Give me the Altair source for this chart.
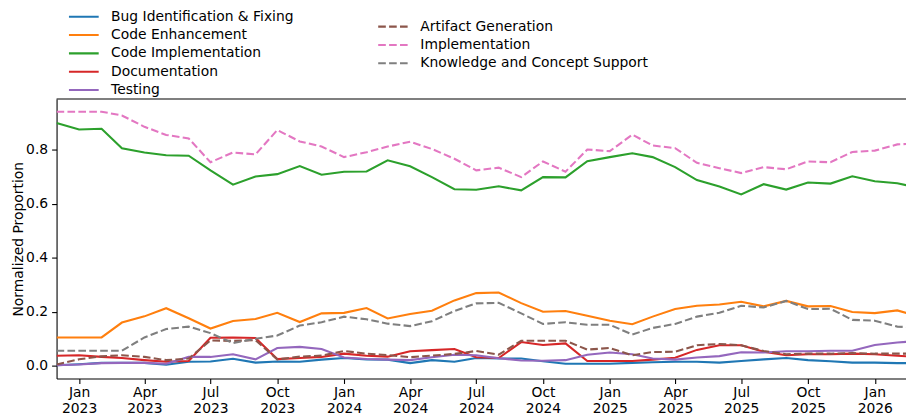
import altair as alt
import pandas as pd

# ---- data (monthly, Dec 2022 .. Mar 2026; last point lies just past the clipped right edge) ----
months = pd.date_range("2022-12-01", "2026-03-01", freq="MS").strftime("%Y-%m-%dT00:00:00").tolist()

bug_fixing = [0.002, 0.006, 0.011, 0.011, 0.011, 0.004, 0.015, 0.016, 0.026, 0.012,
              0.016, 0.015, 0.023, 0.029, 0.024, 0.023, 0.010, 0.021, 0.015, 0.029,
              0.027, 0.027, 0.017, 0.008, 0.008, 0.008, 0.011, 0.013, 0.015, 0.015,
              0.012, 0.018, 0.024, 0.029, 0.021, 0.017, 0.012, 0.012, 0.010, 0.010]
code_enhancement = [0.105, 0.105, 0.105, 0.160, 0.183, 0.213, 0.176, 0.138, 0.166, 0.173,
                    0.196, 0.162, 0.194, 0.196, 0.214, 0.175, 0.192, 0.204, 0.242, 0.269,
                    0.271, 0.232, 0.200, 0.203, 0.185, 0.167, 0.154, 0.182, 0.210, 0.222,
                    0.227, 0.237, 0.220, 0.240, 0.220, 0.221, 0.199, 0.195, 0.205, 0.183]
code_implementation = [0.898, 0.874, 0.877, 0.805, 0.789, 0.779, 0.777, 0.723, 0.670, 0.700,
                       0.709, 0.739, 0.707, 0.718, 0.719, 0.760, 0.738, 0.698, 0.653, 0.651,
                       0.664, 0.649, 0.698, 0.697, 0.757, 0.772, 0.786, 0.772, 0.735, 0.687,
                       0.663, 0.634, 0.672, 0.652, 0.678, 0.674, 0.701, 0.683, 0.675, 0.660]
documentation = [0.037, 0.039, 0.033, 0.029, 0.021, 0.015, 0.018, 0.104, 0.105, 0.103,
                 0.025, 0.029, 0.033, 0.045, 0.037, 0.034, 0.054, 0.058, 0.062, 0.032,
                 0.029, 0.088, 0.077, 0.083, 0.018, 0.018, 0.018, 0.023, 0.030, 0.059,
                 0.076, 0.076, 0.052, 0.039, 0.043, 0.043, 0.045, 0.043, 0.037, 0.033]
testing = [0.002, 0.005, 0.010, 0.011, 0.011, 0.008, 0.033, 0.033, 0.043, 0.024,
           0.066, 0.070, 0.062, 0.031, 0.025, 0.023, 0.021, 0.032, 0.041, 0.039,
           0.028, 0.020, 0.019, 0.021, 0.041, 0.049, 0.043, 0.027, 0.023, 0.031,
           0.036, 0.050, 0.049, 0.054, 0.054, 0.056, 0.056, 0.077, 0.086, 0.092]
artifact_generation = [0.005, 0.024, 0.035, 0.039, 0.033, 0.021, 0.027, 0.094, 0.092, 0.095,
                       0.024, 0.034, 0.038, 0.055, 0.045, 0.040, 0.032, 0.038, 0.044, 0.055,
                       0.041, 0.093, 0.093, 0.093, 0.060, 0.066, 0.039, 0.051, 0.052, 0.076,
                       0.081, 0.076, 0.055, 0.043, 0.045, 0.045, 0.047, 0.045, 0.045, 0.045]
implementation = [0.940, 0.940, 0.940, 0.926, 0.884, 0.854, 0.841, 0.753, 0.789, 0.782,
                  0.872, 0.830, 0.811, 0.772, 0.790, 0.811, 0.829, 0.802, 0.766, 0.723,
                  0.733, 0.698, 0.756, 0.718, 0.800, 0.794, 0.855, 0.815, 0.805, 0.751,
                  0.731, 0.713, 0.735, 0.727, 0.756, 0.753, 0.791, 0.796, 0.819, 0.822]
knowledge_support = [0.056, 0.056, 0.056, 0.056, 0.105, 0.136, 0.145, 0.121, 0.084, 0.100,
                     0.112, 0.149, 0.161, 0.182, 0.172, 0.156, 0.147, 0.165, 0.203, 0.231,
                     0.233, 0.194, 0.155, 0.161, 0.152, 0.152, 0.116, 0.140, 0.155, 0.182,
                     0.196, 0.222, 0.216, 0.240, 0.210, 0.211, 0.170, 0.167, 0.145, 0.142]

solid_names = ["Bug Identification & Fixing", "Code Enhancement", "Code Implementation",
               "Documentation", "Testing"]
solid_values = [bug_fixing, code_enhancement, code_implementation, documentation, testing]
solid_colors = ["#1f77b4", "#ff7f0e", "#2ca02c", "#d62728", "#9467bd"]

dashed_names = ["Artifact Generation", "Implementation", "Knowledge and Concept Support"]
dashed_values = [artifact_generation, implementation, knowledge_support]
dashed_colors = ["#8c564b", "#e377c2", "#7f7f7f"]

tick_months = [(2023, 1), (2023, 4), (2023, 7), (2023, 10),
               (2024, 1), (2024, 4), (2024, 7), (2024, 10),
               (2025, 1), (2025, 4), (2025, 7), (2025, 10), (2026, 1)]
y_ticks = [0.0, 0.2, 0.4, 0.6, 0.8]


def long_frame(names, values):
    rows = []
    for n, vals in zip(names, values):
        for d, v in zip(months, vals):
            rows.append({"date": d, "series": n, "value": v})
    return pd.DataFrame(rows)


df_solid = long_frame(solid_names, solid_values)
df_dashed = long_frame(dashed_names, dashed_values)

FONT = "DejaVu Sans"
DASH = [7.7, 3.3]

x_enc = alt.X(
    "date:T",
    title=None,
    scale=alt.Scale(domain=[alt.DateTime(year=2022, month=12, date=1),
                            alt.DateTime(year=2026, month=2, date=13)]),
    axis=alt.Axis(
        values=[alt.DateTime(year=y, month=m, date=1) for y, m in tick_months],
        labelExpr="[timeFormat(datum.value, '%b'), timeFormat(datum.value, '%Y')]",
        labelLineHeight=16,
        labelPadding=2,
        labelFlush=False,
        labelOverlap=False,
        grid=False,
    ),
)
y_enc = alt.Y(
    "value:Q",
    title="Normalized Proportion",
    scale=alt.Scale(domain=[-0.0469, 0.9869], nice=False, zero=False),
    axis=alt.Axis(values=y_ticks, format=".1f", grid=False, labelPadding=4,
                  titlePadding=0, labelFlush=False),
)

legend_common = dict(
    title=None,
    orient="none",
    direction="vertical",
    symbolType="stroke",
    symbolSize=900,
    symbolStrokeWidth=2.1,
    labelFontSize=14,
    labelFont=FONT,
    labelColor="black",
    labelOffset=11,
    labelLimit=500,
    rowPadding=4.5,
    clipHeight=14,
)

solid = alt.Chart(df_solid).mark_line(strokeWidth=2.1, clip=True).encode(
    x=x_enc,
    y=y_enc,
    color=alt.Color(
        "series:N",
        scale=alt.Scale(domain=solid_names, range=solid_colors),
        legend=alt.Legend(legendX=11, legendY=-90, **legend_common),
    ),
)

dashed = alt.Chart(df_dashed).mark_line(strokeWidth=2.1, strokeDash=DASH, clip=True).encode(
    x=x_enc,
    y=y_enc,
    color=alt.Color(
        "series:N",
        scale=alt.Scale(domain=dashed_names, range=dashed_colors),
        legend=alt.Legend(legendX=323, legendY=-80, symbolDash=DASH, **legend_common),
    ),
)

top_spine = alt.Chart(pd.DataFrame({"k": [0]})).mark_rule(
    color="black", strokeWidth=1.1
).encode(y=alt.value(0))

chart = (
    alt.layer(solid, dashed, top_spine)
    .resolve_scale(color="independent")
    .properties(
        width=857,
        height=282,
        autosize=alt.AutoSizeParams(type="none"),
        padding={"left": 49, "top": 90, "right": 0, "bottom": 35},
    )
    .configure(font=FONT)
    .configure_view(stroke="transparent")
    .configure_axis(
        labelFont=FONT,
        titleFont=FONT,
        labelFontSize=14,
        titleFontSize=14,
        titleFontWeight="normal",
        labelColor="black",
        titleColor="black",
        domainColor="black",
        tickColor="black",
        domainWidth=1.1,
        tickWidth=1.1,
        tickSize=5,
    )
)

chart.save("out.html", embed_options={"renderer": "svg", "actions": False})
